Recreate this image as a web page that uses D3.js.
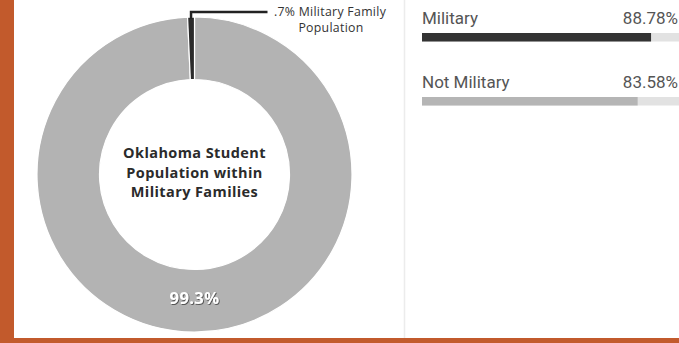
<!DOCTYPE html>
<html>
<head>
<meta charset="utf-8">
<script src="https://cdn.jsdelivr.net/npm/d3@7"></script>
<style>
  body { margin: 0; background: #ffffff; }
  svg { display: block; }
</style>
</head>
<body>
<script>
// donut data
var sliceLabels = ["Not Military Family", "Military Family"];
var sliceValues = [99.3, 0.7];
var sliceColors = ["#b3b3b3", "#2b2b2b"];

// bar data
var barCategories = ["Military", "Not Military"];
var barValues = [88.78, 83.58];
var barLabels = ["88.78%", "83.58%"];
var barColors = ["#333333", "#b5b5b5"];

var width = 679, height = 343;

var svg = d3.select("body").append("svg")
    .attr("width", width)
    .attr("height", height);

// frame: orange border on left and bottom
svg.append("rect").attr("x", 0).attr("y", 0).attr("width", 14).attr("height", height).attr("fill", "#c25a2c");
svg.append("rect").attr("x", 0).attr("y", 338).attr("width", width).attr("height", 5).attr("fill", "#c25a2c");

// divider between the two panels
svg.append("line")
    .attr("x1", 404.5).attr("x2", 404.5)
    .attr("y1", 0).attr("y2", 338)
    .attr("stroke", "#ececec")
    .attr("stroke-width", 1.5);

// ---- donut ----
var cx = 194.5, cy = 174.5, outerR = 157.5, innerR = 95;

var pie = d3.pie().sort(null).value(function(d) { return d; });
var arc = d3.arc().innerRadius(innerR).outerRadius(outerR);

var donut = svg.append("g").attr("transform", "translate(" + cx + "," + cy + ")");

var slices = pie(sliceValues);

donut.selectAll("path")
    .data(slices)
  .enter().append("path")
    .attr("d", arc)
    .attr("fill", function(d, i) { return sliceColors[i]; })
    .attr("stroke", "#ffffff")
    .attr("stroke-width", 1.2);

// leader line from the small slice
var small = slices[1];
var mid = (small.startAngle + small.endAngle) / 2;
var px = Math.sin(mid) * outerR, py = -Math.cos(mid) * outerR;
donut.append("polyline")
    .attr("points", [[px, py + 2], [px, -outerR - 5], [73, -outerR - 5]].map(function(p) { return p.join(","); }).join(" "))
    .attr("fill", "none")
    .attr("stroke", "#222222")
    .attr("stroke-width", 2.5);

svg.append("text")
    .attr("x", 330).attr("y", 16)
    .attr("text-anchor", "middle")
    .attr("font-family", "Open Sans")
    .attr("font-size", 12.3)
    .attr("letter-spacing", 0.3)
    .attr("fill", "#333333")
    .text(".7% Military Family");
svg.append("text")
    .attr("x", 331).attr("y", 32)
    .attr("text-anchor", "middle")
    .attr("font-family", "Open Sans")
    .attr("font-size", 12.3)
    .attr("letter-spacing", 0.3)
    .attr("fill", "#333333")
    .text("Population");

// center title
var titleLines = ["Oklahoma Student", "Population within", "Military Families"];
svg.append("g").selectAll("text")
    .data(titleLines)
  .enter().append("text")
    .attr("x", cx)
    .attr("y", function(d, i) { return 158 + i * 19.5; })
    .attr("text-anchor", "middle")
    .attr("font-family", "Open Sans")
    .attr("font-weight", 700)
    .attr("font-size", 14.5)
    .attr("letter-spacing", 0.4)
    .attr("fill", "#2b2b2b")
    .text(function(d) { return d; });

// big slice value
var shadow = svg.append("defs").append("filter").attr("id", "sh");
shadow.append("feDropShadow").attr("dx", 0.8).attr("dy", 0.8).attr("stdDeviation", 0.6).attr("flood-color", "#333").attr("flood-opacity", 0.9);
svg.append("text")
    .attr("x", cx).attr("y", 304)
    .attr("text-anchor", "middle")
    .attr("font-family", "Open Sans")
    .attr("font-weight", 700)
    .attr("font-size", 16.5)
    .attr("letter-spacing", 0.4)
    .attr("fill", "#ffffff")
    .attr("filter", "url(#sh)")
    .text(sliceValues[0] + "%");

// ---- bars ----
var barX = d3.scaleLinear().domain([0, 100]).range([422, 680]);
var barY = d3.scalePoint().domain(barCategories).range([33, 97]);
var barH = 8.5;

var rows = svg.append("g").selectAll("g")
    .data(barCategories)
  .enter().append("g");

rows.append("text")
    .attr("x", 422)
    .attr("y", function(d) { return barY(d) - 9; })
    .attr("font-family", "Roboto")
    .attr("font-size", 17)
    .attr("fill", "#555555")
    .text(function(d) { return d; });

rows.append("text")
    .attr("x", 678)
    .attr("y", function(d) { return barY(d) - 9; })
    .attr("text-anchor", "end")
    .attr("font-family", "Roboto")
    .attr("font-size", 17)
    .attr("fill", "#555555")
    .text(function(d, i) { return barLabels[i]; });

rows.append("rect")
    .attr("x", barX(0))
    .attr("y", function(d) { return barY(d); })
    .attr("width", barX(100) - barX(0))
    .attr("height", barH)
    .attr("fill", "#e2e2e2");

rows.append("rect")
    .attr("x", barX(0))
    .attr("y", function(d) { return barY(d); })
    .attr("width", function(d, i) { return barX(barValues[i]) - barX(0); })
    .attr("height", barH)
    .attr("fill", function(d, i) { return barColors[i]; });
</script>
</body>
</html>
